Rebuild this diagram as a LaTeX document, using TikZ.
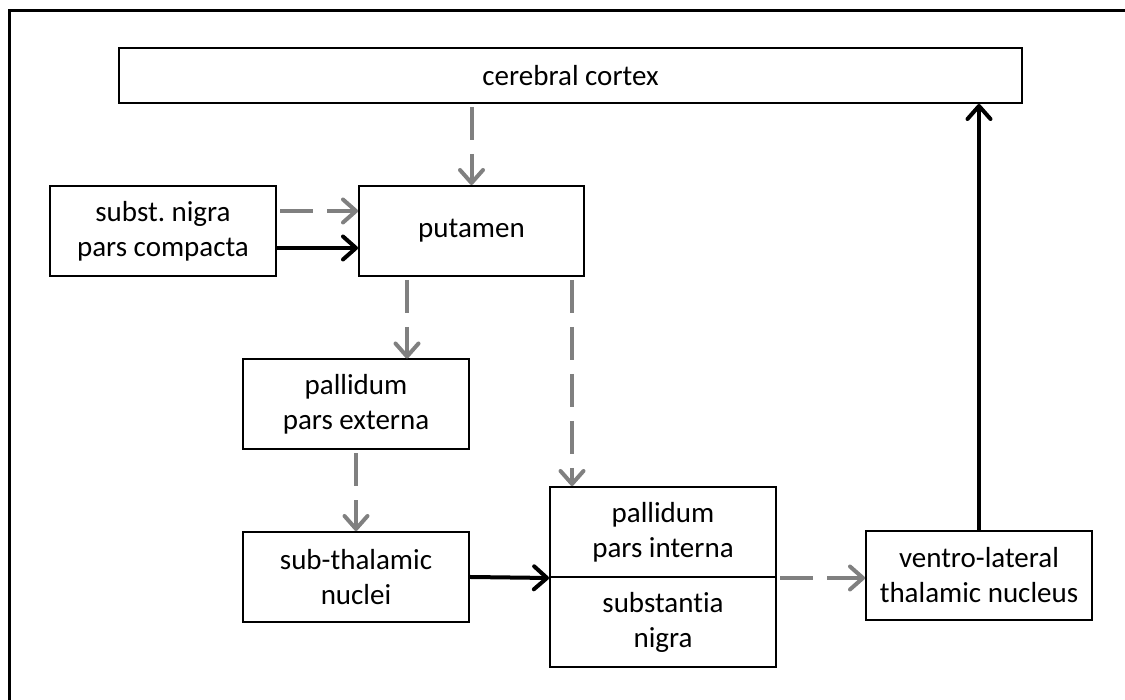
\documentclass[tikz,border=0pt]{standalone}
\usepackage{fontspec}
\setmainfont{Carlito}[Ligatures=NoCommon]
\frenchspacing
\usetikzlibrary{arrows.meta,calc}
\definecolor{linkgray}{RGB}{128,128,128}
\begin{document}
\begin{tikzpicture}[x=1pt,y=1pt,
  box/.style={draw=black,line width=2pt,rectangle,align=center,inner sep=0pt,
    minimum width=226pt,minimum height=90pt,font=\fontsize{29}{35}\selectfont},
  tip/.style={-{Straight Barb[length=13pt,width=23pt,line cap=round,line join=round]}},
  inhib/.style={tip,draw=linkgray,line width=4pt,dash pattern=on 33pt off 14pt,shorten <=3pt},
  excit/.style={tip,draw=black,line width=4pt}]
\useasboundingbox (0,0) rectangle (1125,700);
% outer frame: only the top and left edges fall inside the page
\draw[line width=3pt] (9,0) -- (9,689) -- (1125,689);

% nuclei
\node[box,minimum width=903pt,minimum height=55pt] (ctx) at (570.5,624.5) {cerebral cortex};
\node[box] (snpc) at (163,469) {subst. nigra\\pars compacta};
\node[box,minimum width=225pt] (put) at (471.5,469) {putamen};
\node[box] (pe) at (356,295.5) {pallidum\\pars externa};
\node[box] (stn) at (356,123) {sub-thalamic\\nuclei};
\node[box] (gpi) at (663,168) {pallidum\\pars interna};
\node[box] (snr) at (663,78) {substantia\\nigra};
\node[box,minimum height=89pt] (vl) at (979,124.5) {ventro-lateral\\thalamic nucleus};

% connector anchors
\coordinate (snpcA) at ($(snpc.east)+(0,20)$);
\coordinate (snpcB) at ($(snpc.east)+(0,-17)$);
\coordinate (putA) at ($(put.south west)+(49,0)$);
\coordinate (putB) at ($(put.south east)+(-13,0)$);

% pathways
\draw[inhib] (put.north |- ctx.south) -- (put.north);
\draw[inhib] (snpcA) -- (snpcA -| put.west);
\draw[excit] (snpcB) -- (snpcB -| put.west);
\draw[inhib] (putA) -- (putA |- pe.north);
\draw[inhib] (putB) -- (putB |- gpi.north);
\draw[inhib] (pe.south) -- (stn.north);
\draw[excit] (stn.east) -- (gpi.south west);
\draw[inhib] (gpi.south east) -- (gpi.south east -| vl.west);
\draw[excit] (vl.north) -- (vl.north |- ctx.south);
\end{tikzpicture}
\end{document}
